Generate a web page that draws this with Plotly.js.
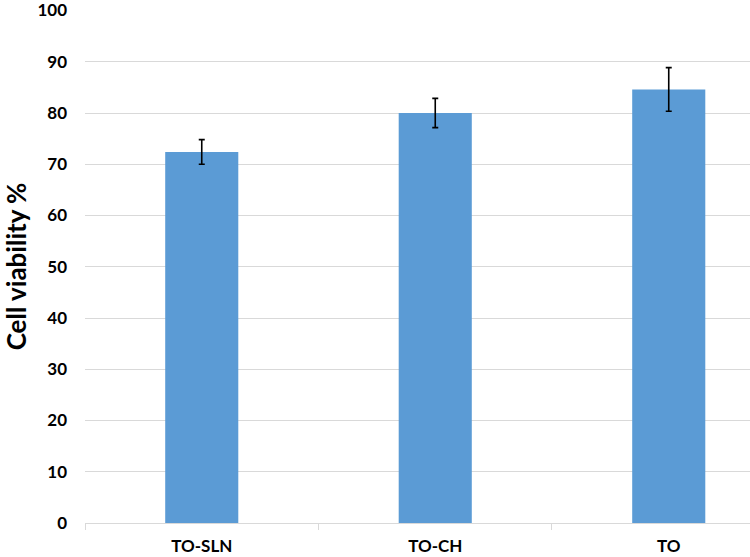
<!DOCTYPE html>
<html>
<head>
<meta charset="utf-8">
<script src="https://cdn.plot.ly/plotly-3.0.1.min.js"></script>
<style>html,body{margin:0;padding:0;background:#fff;}#chart{width:750px;height:557px;}</style>
</head>
<body>
<div id="chart"></div>
<script>
const categories = ["TO-SLN", "TO-CH", "TO"];
const viability = [72.4, 80.0, 84.6];
const errors = [2.4, 2.85, 4.25];
const yTicks = [0, 10, 20, 30, 40, 50, 60, 70, 80, 90, 100];

const trace = {
  type: "bar",
  x: categories,
  y: viability,
  width: 0.313,
  marker: {color: "#5B9BD5"},
  error_y: {type: "data", array: errors, visible: true, color: "#000000", thickness: 1.6, width: 3},
  hoverinfo: "none"
};

const tickFont = {size: 17, family: "Lato, Open Sans, sans-serif", weight: "bold", color: "#000"};

const layout = {
  width: 750, height: 557,
  margin: {l: 85, r: 0, t: 10, b: 34, pad: 0},
  paper_bgcolor: "#ffffff", plot_bgcolor: "#ffffff",
  showlegend: false,
  font: {family: "Lato, Open Sans, sans-serif", color: "#000000"},
  xaxis: {
    type: "category",
    range: [-0.5, 2.348],
    showline: true, linecolor: "#d9d9d9", linewidth: 1,
    ticks: "outside", tickson: "boundaries", ticklen: 6, tickcolor: "#d9d9d9",
    ticklabelstandoff: 8,
    showgrid: false,
    tickfont: tickFont,
    fixedrange: true
  },
  yaxis: {
    range: [0, 100.1],
    tickvals: yTicks,
    showgrid: true, gridcolor: "#d9d9d9", gridwidth: 1,
    zeroline: false, showline: false,
    ticks: "", ticklabelstandoff: 17,
    ticklabeloverflow: "allow",
    tickfont: tickFont,
    title: {text: "Cell viability %", font: {size: 26, family: "Lato, Open Sans, sans-serif", weight: "bold", color: "#000"}, standoff: 10},
    fixedrange: true
  }
};

Plotly.newPlot("chart", [trace], layout, {displayModeBar: false, staticPlot: true});
</script>
</body>
</html>
